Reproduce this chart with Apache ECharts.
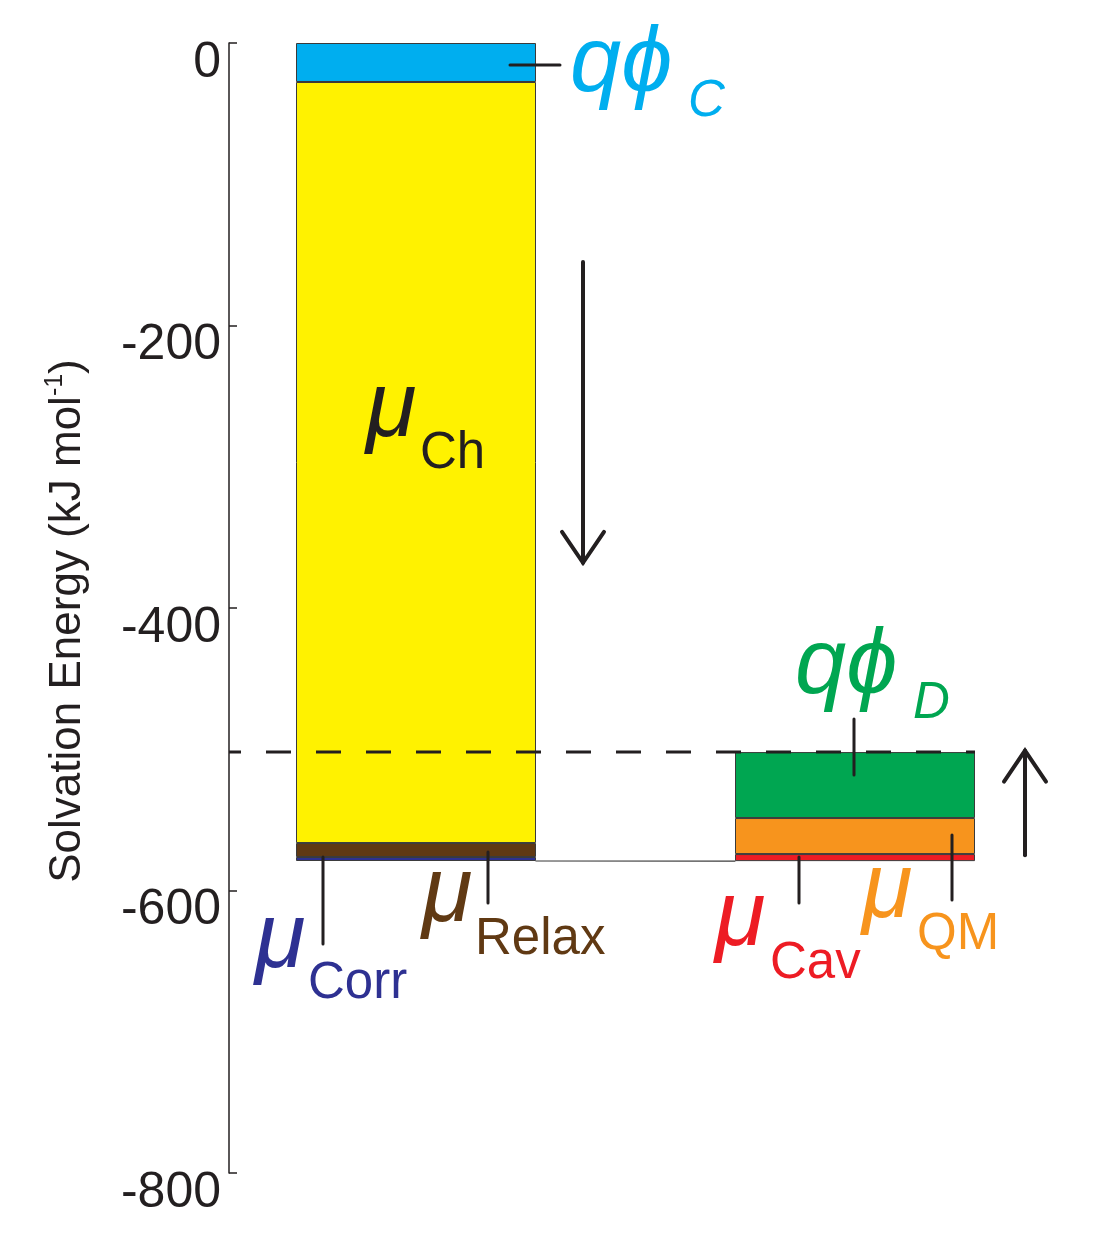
<!DOCTYPE html>
<html>
<head>
<meta charset="utf-8">
<title>Solvation Energy</title>
<script src="https://cdn.jsdelivr.net/npm/echarts@6/dist/echarts.min.js"></script>
<style>
  html, body { margin: 0; padding: 0; background: #fff; }
  #chart { width: 1105px; height: 1248px; }
</style>
</head>
<body>
<div id="chart"></div>
<script>
// ---- 数据 (kJ/mol) ----
const categories = ['charged', 'discharged'];
// 每层从上到下堆叠: 左柱 | 右柱
const layer1 = [-27.6, -502.0];   // qϕC | 右柱上方空白(透明)
const layer2 = [-538.8, -46.7];   // μCh | qϕD
const layer3 = [-9.9, -25.5];     // μRelax | μQM
const layer4 = [-2.8, -5.0];      // μCorr | μCav
const layerColors = [
    ['#00AEEF', 'transparent'],
    ['#FFF200', '#00A651'],
    ['#603913', '#F7941D'],
    ['#2E3192', '#ED1C24']
];
const yMin = -800, yMax = 0, yStep = 200;
// 箭头 (数值坐标)
const downArrow = [-155, -368];
const upArrow = [-575, -501];

const INK = '#231F20';
const FONT = '"Liberation Sans", "DejaVu Sans", Arial, sans-serif';
const GRID_LEFT = 196.5;
const Y_OFFSET = -32.5;
const BAR_W = 240;

const chart = echarts.init(document.getElementById('chart'));

const layers = [layer1, layer2, layer3, layer4];
const series = layers.map(function (arr, i) {
    return {
        type: 'bar',
        stack: 'energy',
        barWidth: BAR_W,
        animation: false,
        data: arr.map(function (v, j) {
            const hidden = layerColors[i][j] === 'transparent';
            return {
                value: v,
                itemStyle: {
                    color: layerColors[i][j],
                    borderColor: hidden ? 'transparent' : '#3a3a3a',
                    borderWidth: hidden ? 0 : 1
                }
            };
        })
    };
});

chart.setOption({
    animation: false,
    grid: { left: GRID_LEFT, right: 30.5, top: 43, bottom: 75 },
    xAxis: {
        type: 'category',
        data: categories,
        axisLine: { show: false },
        axisTick: { show: false },
        axisLabel: { show: false },
        splitLine: { show: false }
    },
    yAxis: {
        type: 'value',
        min: yMin,
        max: yMax,
        interval: yStep,
        offset: Y_OFFSET,
        splitLine: { show: false },
        axisLine: { show: true, lineStyle: { color: INK, width: 1.5 } },
        axisTick: { show: true, inside: true, length: 8, lineStyle: { color: INK, width: 1.5 } },
        axisLabel: {
            fontSize: 50,
            fontFamily: FONT,
            color: INK,
            margin: 8,
            verticalAlign: 'top',
            lineHeight: 40
        },
        name: 'Solvation Energy (kJ mol{sup|-1})',
        nameLocation: 'middle',
        nameRotate: 90,
        nameGap: 136,
        nameTextStyle: {
            fontSize: 44,
            fontFamily: FONT,
            color: INK,
            lineHeight: 50,
            padding: [0, 26, 0, 0],
            rich: {
                sup: { fontSize: 25, lineHeight: 25, verticalAlign: 'top', fontFamily: FONT, color: INK }
            }
        }
    },
    series: series
});

// ---- 注释: 用坐标轴换算像素位置 ----
function px(i, v) {
    return chart.convertToPixel({ xAxisIndex: 0, yAxisIndex: 0 }, [i, v]);
}
function yOf(v) { return px(0, v)[1]; }
function sum(a) { return a.reduce(function (s, x) { return s + x; }, 0); }

const c1 = px(0, 0)[0], c2 = px(1, 0)[0];
const L1 = c1 - BAR_W / 2, R1 = c1 + BAR_W / 2;
const L2 = c2 - BAR_W / 2, R2 = c2 + BAR_W / 2;
const y0 = yOf(0);
const bottom1 = yOf(sum(layers.map(function (l) { return l[0]; })));
const bottom2 = yOf(sum(layers.map(function (l) { return l[1]; })));
const top2 = yOf(layer1[1]);
const axisX = GRID_LEFT - Y_OFFSET;

function line(x1, y1, x2, y2, w, extra) {
    return Object.assign({
        type: 'line', z: 100,
        shape: { x1: x1, y1: y1, x2: x2, y2: y2 },
        style: { stroke: INK, lineWidth: w, lineCap: 'round' }
    }, extra || {});
}
function arrow(x, yFrom, yTo) {
    const dir = yTo > yFrom ? 1 : -1;
    return [
        line(x, yFrom, x, yTo, 4),
        {
            type: 'polyline', z: 100,
            shape: { points: [[x - 21, yTo - dir * 31], [x, yTo], [x + 21, yTo - dir * 31]] },
            style: { stroke: INK, lineWidth: 4, fill: null, lineCap: 'round', lineJoin: 'miter' }
        }
    ];
}
// 左侧基线位置 baseline -> 文本中心
function text(x, baseline, str, size, color, italic) {
    return {
        type: 'text', z: 110,
        x: x, y: baseline - 0.35 * size,
        style: {
            text: str, fill: color, fontSize: size, fontFamily: FONT,
            fontStyle: italic ? 'italic' : 'normal',
            align: 'left', verticalAlign: 'middle'
        }
    };
}
function label(mx, my, main, sub, subItalic, color) {
    return [
        text(mx.x, mx.b, main, 92, color, true),
        text(my.x, my.b, sub, 51, color, subItalic)
    ];
}

let g = [];
// 两柱底部连线
g.push(line(R1, bottom1, L2, bottom2, 1.2, { z: 90 }));
g.at(-1).style.stroke = '#3a3a3a';
// 虚线 (右柱顶部)
g.push(line(axisX, top2, R2, top2, 3, {}));
g.at(-1).style.lineDash = [25, 25];
g.at(-1).style.lineDashOffset = 13;
g.at(-1).style.lineCap = 'butt';

// 引线
g.push(line(R1 - 26, y0 + 22, R1 + 24, y0 + 22, 3));            // qϕC
g.push(line(L1 + 27, bottom1 - 4, L1 + 27, bottom1 + 83, 3));   // μCorr
g.push(line(L1 + 192, bottom1 - 9, L1 + 192, bottom1 + 42, 3)); // μRelax
g.push(line(L2 + 64, bottom2 - 4, L2 + 64, bottom2 + 42, 3));   // μCav
g.push(line(L2 + 217, bottom2 - 26, L2 + 217, bottom2 + 39, 3)); // μQM
g.push(line(L2 + 119, top2 - 33, L2 + 119, top2 + 23, 3));      // qϕD

// 箭头
g = g.concat(arrow(R1 + 47, yOf(downArrow[0]), yOf(downArrow[1])));
g = g.concat(arrow(R2 + 50, yOf(upArrow[0]), yOf(upArrow[1])));

// 标签
g = g.concat(label({ x: R1 + 34, b: y0 + 55 }, { x: R1 + 152, b: y0 + 77 }, 'q\u03D5', 'C', true, '#00AEEF'));
g = g.concat(label({ x: L1 + 70, b: y0 + 400 }, { x: L1 + 124, b: y0 + 429 }, '\u03BC', 'Ch', false, INK));
g = g.concat(label({ x: L1 - 41, b: bottom1 + 113 }, { x: L1 + 12, b: bottom1 + 141 }, '\u03BC', 'Corr', false, '#2E3192'));
g = g.concat(label({ x: L1 + 126, b: bottom1 + 67 }, { x: L1 + 179, b: bottom1 + 97 }, '\u03BC', 'Relax', false, '#603913'));
g = g.concat(label({ x: L2 - 20, b: bottom2 + 90 }, { x: L2 + 35, b: bottom2 + 121 }, '\u03BC', 'Cav', false, '#ED1C24'));
g = g.concat(label({ x: L2 + 127, b: bottom2 + 62 }, { x: L2 + 182, b: bottom2 + 92 }, '\u03BC', 'QM', false, '#F7941D'));
g = g.concat(label({ x: L2 + 60, b: top2 - 52 }, { x: L2 + 178, b: top2 - 30 }, 'q\u03D5', 'D', true, '#00A651'));

chart.setOption({ graphic: { elements: g } });
</script>
</body>
</html>
